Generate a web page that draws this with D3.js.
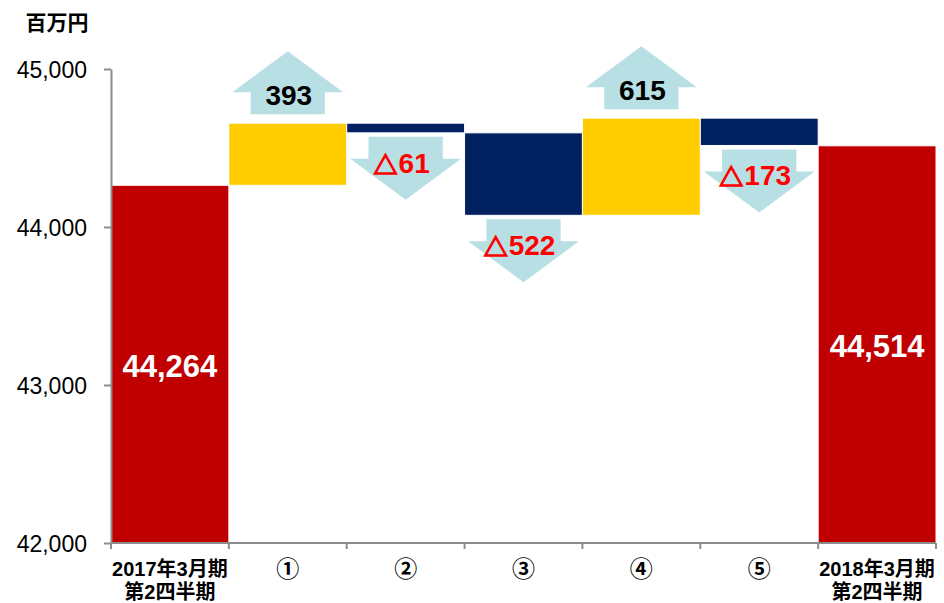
<!DOCTYPE html>
<html>
<head>
<meta charset="utf-8">
<script src="https://cdn.jsdelivr.net/npm/d3@7"></script>
<style>
  html, body { margin: 0; padding: 0; background: #fff; }
  svg { display: block; }
</style>
</head>
<body>
<svg id="chart" width="944" height="603"></svg>
<script>
// ---- data ----
const categories = ["2017年3月期\n第2四半期", "①", "②", "③", "④", "⑤", "2018年3月期\n第2四半期"];
const startValue = 44264;
const deltas = [393, -61, -522, 615, -173];
const endValue = 44514;
const deltaLabels = ["393", "△61", "△522", "615", "△173"];
const yTicks = [42000, 43000, 44000, 45000];
const unitLabel = "百万円";

// ---- layout ----
const svg = d3.select("#chart");

const x = d3.scaleBand().domain(categories).range([111, 936]).padding(0);
const y = d3.scaleLinear().domain([42000, 45000]).range([543, 69]);

const colors = { total: "#c00000", up: "#ffcc00", down: "#002060", arrow: "#b7dfe4", axis: "#8c8c8c" };

// build bar records
const bars = [];
bars.push({ cat: categories[0], y0: 42000, y1: startValue, type: "total", label: d3.format(",")(startValue) });
let run = startValue;
deltas.forEach((d, i) => {
  bars.push({ cat: categories[i + 1], y0: run, y1: run + d, type: d >= 0 ? "up" : "down", delta: d, label: deltaLabels[i] });
  run += d;
});
bars.push({ cat: categories[6], y0: 42000, y1: endValue, type: "total", label: d3.format(",")(endValue) });

// bars
svg.append("g").selectAll("rect").data(bars).join("rect")
  .attr("x", d => x(d.cat))
  .attr("width", x.bandwidth())
  .attr("y", d => y(Math.max(d.y0, d.y1)))
  .attr("height", d => Math.abs(y(d.y0) - y(d.y1)))
  .attr("fill", d => colors[d.type])
  .attr("stroke", "#ffffff")
  .attr("stroke-width", 1);

// arrows
const bw = x.bandwidth();
const headW = bw * 0.94, shaftW = bw * 0.63, headH = 41, shaftH = 22;
const arrowG = svg.append("g");

function addLabel(g, cx, cy, label, color) {
  const t = g.append("text")
    .attr("x", cx).attr("y", cy)
    .attr("text-anchor", "middle").attr("dominant-baseline", "central")
    .attr("font-family", "'Liberation Sans', 'Noto Sans CJK JP', sans-serif")
    .attr("font-size", 28).attr("font-weight", "bold")
    .attr("fill", color);
  if (label.startsWith("△")) {
    t.append("tspan")
      .attr("font-family", "'Noto Sans CJK JP', sans-serif")
      .attr("font-size", 24).attr("font-weight", "bold")
      .attr("stroke", color).attr("stroke-width", 1.4)
      .text("△");
    t.append("tspan").attr("dx", 1).text(label.slice(1));
  } else {
    t.text(label);
  }
}

bars.filter(d => d.type !== "total").forEach(d => {
  const cx = x(d.cat) + bw / 2;
  const p = d3.path();
  if (d.type === "up") {
    const bottom = y(Math.max(d.y0, d.y1)) - 9;
    const base = bottom - shaftH;
    const tip = base - headH;
    p.moveTo(cx - shaftW / 2, bottom);
    p.lineTo(cx - shaftW / 2, base);
    p.lineTo(cx - headW / 2, base);
    p.lineTo(cx, tip);
    p.lineTo(cx + headW / 2, base);
    p.lineTo(cx + shaftW / 2, base);
    p.lineTo(cx + shaftW / 2, bottom);
    p.closePath();
    arrowG.append("path").attr("d", p.toString()).attr("fill", colors.arrow);
    addLabel(arrowG, cx + 1, bottom - 19, d.label, "#000");
  } else {
    const top = y(Math.min(d.y0, d.y1)) + 4;
    const base = top + shaftH;
    const tip = base + headH;
    p.moveTo(cx - shaftW / 2, top);
    p.lineTo(cx - shaftW / 2, base);
    p.lineTo(cx - headW / 2, base);
    p.lineTo(cx, tip);
    p.lineTo(cx + headW / 2, base);
    p.lineTo(cx + shaftW / 2, base);
    p.lineTo(cx + shaftW / 2, top);
    p.closePath();
    arrowG.append("path").attr("d", p.toString()).attr("fill", colors.arrow);
    addLabel(arrowG, cx - 4, top + 26, d.label, "#ff0000");
  }
});

// total labels
svg.append("g").selectAll("text").data(bars.filter(d => d.type === "total")).join("text")
  .attr("x", d => x(d.cat) + bw / 2)
  .attr("y", d => (y(d.y0) + y(d.y1)) / 2 + 2)
  .attr("text-anchor", "middle").attr("dominant-baseline", "central")
  .attr("font-family", "'Liberation Sans', sans-serif")
  .attr("font-size", 31).attr("font-weight", "bold")
  .attr("fill", "#fff").text(d => d.label);

// y axis
const yAxis = d3.axisLeft(y).tickValues(yTicks).tickFormat(d3.format(",")).tickSize(7).tickSizeOuter(0).tickPadding(17);
const gy = svg.append("g").attr("transform", `translate(${111},0)`).call(yAxis);
gy.select(".domain").attr("stroke", colors.axis).attr("stroke-width", 2);
gy.selectAll(".tick line").attr("stroke", colors.axis).attr("stroke-width", 2);
gy.selectAll(".tick text")
  .attr("font-family", "'Liberation Sans', sans-serif")
  .attr("font-size", 23).attr("fill", "#000").attr("dy", "0.36em");

// x axis (band boundary ticks)
const gx = svg.append("g").attr("transform", `translate(0,${543})`);
gx.append("line").attr("x1", 111).attr("x2", 936).attr("y1", 0).attr("y2", 0)
  .attr("stroke", colors.axis).attr("stroke-width", 2);
const boundaries = categories.map(c => x(c)).concat([x(categories[categories.length - 1]) + bw]);
gx.selectAll("line.tk").data(boundaries).join("line").attr("class", "tk")
  .attr("x1", d => d).attr("x2", d => d).attr("y1", 0).attr("y2", 6)
  .attr("stroke", colors.axis).attr("stroke-width", 2);
const xl = gx.selectAll("text").data(categories).join("text")
  .attr("x", d => x(d) + bw / 2)
  .attr("y", 26)
  .attr("text-anchor", "middle")
  .attr("font-family", "'Liberation Sans', 'Noto Sans CJK JP', sans-serif")
  .attr("font-size", d => d.includes("\n") ? 20 : 23)
  .attr("font-weight", "bold").attr("fill", "#000");
xl.each(function(d) {
  const lines = d.split("\n");
  d3.select(this).selectAll("tspan").data(lines).join("tspan")
    .attr("x", x(d) + bw / 2)
    .attr("dy", (l, i) => i === 0 ? "0.35em" : "1.15em")
    .text(l => l);
});

// unit label
svg.append("text").attr("x", 57).attr("y", 21)
  .attr("text-anchor", "middle").attr("dominant-baseline", "central")
  .attr("font-family", "'Noto Sans CJK JP', sans-serif")
  .attr("font-size", 21).attr("font-weight", "bold").attr("fill", "#000")
  .text(unitLabel);
</script>
</body>
</html>
